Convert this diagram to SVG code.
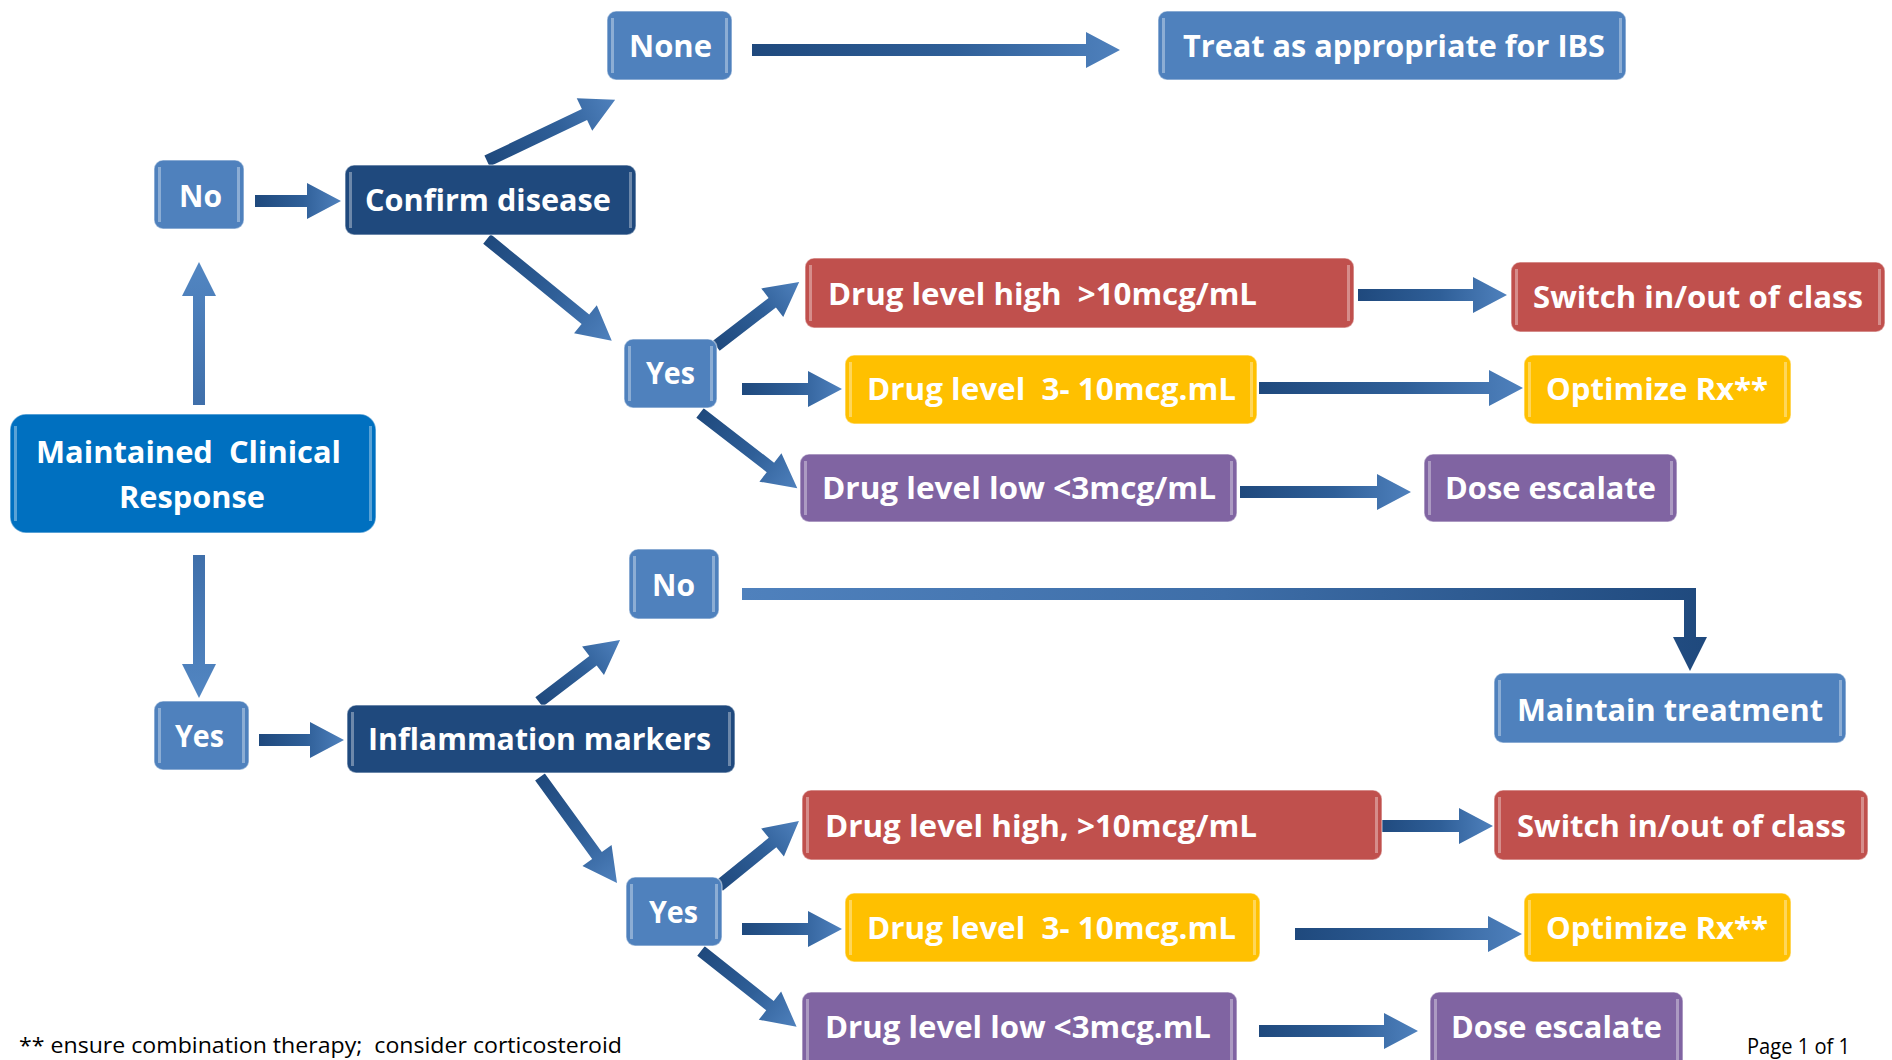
<svg xmlns="http://www.w3.org/2000/svg" width="1892" height="1060" viewBox="0 0 1892 1060">
<defs>
<style>
.box{stroke:#ffffff;stroke-opacity:.45;stroke-width:1.5}
.lb{fill:#4F81BD}.dk{fill:#1F497D}.mn{fill:#0070C0}.rd{fill:#C0504D}.yl{fill:#FFC000}.pu{fill:#8064A2}
.hl{fill:#ffffff;opacity:.35}
.t{font-family:"Open Sans","Liberation Sans",sans-serif;font-weight:700;font-size:31px;fill:#ffffff;white-space:pre}
.fn{font-family:"Open Sans","Liberation Sans",sans-serif;font-size:21px;fill:#000000;white-space:pre}
.ar{fill:url(#ga)}
.av{fill:url(#gv)}
</style>
<linearGradient id="ga" x1="0" y1="0" x2="1" y2="0">
<stop offset="0" stop-color="#1F497D"/>
<stop offset="0.55" stop-color="#2F5F98"/>
<stop offset="1" stop-color="#4F81BD"/>
</linearGradient>
<linearGradient id="gv" x1="0" y1="0" x2="1" y2="0">
<stop offset="0" stop-color="#3F6FAA"/>
<stop offset="1" stop-color="#5286C2"/>
</linearGradient>
<linearGradient id="ge" gradientUnits="userSpaceOnUse" x1="742" y1="0" x2="1707" y2="0">
<stop offset="0" stop-color="#4F81BD"/>
<stop offset="0.5" stop-color="#3E6EA8"/>
<stop offset="1" stop-color="#1F497D"/>
</linearGradient>
</defs>
<rect width="1892" height="1060" fill="#ffffff"/>

<g id="connectors">
<path class="ar" transform="translate(752,50)" d="M0,-6H334V-18L368,0L334,18V6H0Z"/>
<path class="ar" transform="translate(255,201)" d="M0,-6H52V-18L86,0L52,18V6H0Z"/>
<path class="ar" transform="translate(487,161) rotate(-25.5)" d="M0,-6H108V-18L142,0L108,18V6H0Z"/>
<path class="ar" transform="translate(487,239) rotate(39.2)" d="M0,-6H127V-18L161,0L127,18V6H0Z"/>
<path class="av" transform="translate(199,405) rotate(-90)" d="M0,-6H109V-17L143,0L109,17V6H0Z"/>
<path class="av" transform="translate(199,555) rotate(90)" d="M0,-6H109V-17L143,0L109,17V6H0Z"/>
<path class="ar" transform="translate(259,740)" d="M0,-6H51V-18L85,0L51,18V6H0Z"/>
<path class="ar" transform="translate(539,702) rotate(-37.4)" d="M0,-6H68V-18L102,0L68,18V6H0Z"/>
<path class="ar" transform="translate(540,777) rotate(54)" d="M0,-6H97V-18L131,0L97,18V6H0Z"/>
<path fill="url(#ge)" d="M742,588H1696V637H1707L1690,671L1673,637H1684V600H742Z"/>
<path class="ar" transform="translate(716,346) rotate(-37.6)" d="M0,-6H71V-18L105,0L71,18V6H0Z"/>
<path class="ar" transform="translate(742,389)" d="M0,-6H66V-18L100,0L66,18V6H0Z"/>
<path class="ar" transform="translate(700,413) rotate(37.7)" d="M0,-6H89V-18L123,0L89,18V6H0Z"/>
<path class="ar" transform="translate(1358,295)" d="M0,-6H115V-18L149,0L115,18V6H0Z"/>
<path class="ar" transform="translate(1259,388)" d="M0,-6H230V-18L264,0L230,18V6H0Z"/>
<path class="ar" transform="translate(1240,492)" d="M0,-6H137V-18L171,0L137,18V6H0Z"/>
<path class="ar" transform="translate(719,886) rotate(-39.1)" d="M0,-6H69V-18L103,0L69,18V6H0Z"/>
<path class="ar" transform="translate(742,929)" d="M0,-6H66V-18L100,0L66,18V6H0Z"/>
<path class="ar" transform="translate(701,951) rotate(38.4)" d="M0,-6H88V-18L122,0L88,18V6H0Z"/>
<path class="ar" transform="translate(1377,826)" d="M0,-6H82V-18L116,0L82,18V6H0Z"/>
<path class="ar" transform="translate(1295,934)" d="M0,-6H193V-18L227,0L193,18V6H0Z"/>
<path class="ar" transform="translate(1259,1031)" d="M0,-6H125V-18L159,0L125,18V6H0Z"/>
</g>

<g id="n-none"><rect class="box lb" x="607" y="11" width="125" height="69" rx="9"/><rect class="hl" x="611" y="18" width="3" height="55"/><rect class="hl" x="725" y="18" width="3" height="55"/><text class="t" x="629" y="57" textLength="83" lengthAdjust="spacingAndGlyphs">None</text></g>
<g id="n-ibs"><rect class="box lb" x="1158" y="11" width="468" height="69" rx="9"/><rect class="hl" x="1162" y="18" width="3" height="55"/><rect class="hl" x="1619" y="18" width="3" height="55"/><text class="t" x="1183" y="57" textLength="422" lengthAdjust="spacingAndGlyphs">Treat as appropriate for IBS</text></g>
<g id="n-no1"><rect class="box lb" x="154" y="160" width="90" height="69" rx="9"/><rect class="hl" x="158" y="167" width="3" height="55"/><rect class="hl" x="237" y="167" width="3" height="55"/><text class="t" x="179" y="207" textLength="43" lengthAdjust="spacingAndGlyphs">No</text></g>
<g id="n-confirm"><rect class="box dk" x="345" y="165" width="291" height="70" rx="9"/><rect class="hl" x="349" y="172" width="3" height="56"/><rect class="hl" x="629" y="172" width="3" height="56"/><text class="t" x="365" y="211" textLength="246" lengthAdjust="spacingAndGlyphs">Confirm disease</text></g>
<g id="n-yes1"><rect class="box lb" x="624" y="339" width="93" height="69" rx="9"/><rect class="hl" x="628" y="346" width="3" height="55"/><rect class="hl" x="710" y="346" width="3" height="55"/><text class="t" x="646" y="384" textLength="49" lengthAdjust="spacingAndGlyphs">Yes</text></g>
<g id="n-high1"><rect class="box rd" x="805" y="258" width="549" height="70" rx="9"/><rect class="hl" x="809" y="265" width="3" height="56"/><rect class="hl" x="1347" y="265" width="3" height="56"/><text class="t" x="828" y="305" textLength="429" lengthAdjust="spacingAndGlyphs" xml:space="preserve">Drug level high  &gt;10mcg/mL</text></g>
<g id="n-switch1"><rect class="box rd" x="1511" y="262" width="374" height="70" rx="9"/><rect class="hl" x="1515" y="269" width="3" height="56"/><rect class="hl" x="1878" y="269" width="3" height="56"/><text class="t" x="1533" y="308" textLength="330" lengthAdjust="spacingAndGlyphs">Switch in/out of class</text></g>
<g id="n-mid1"><rect class="box yl" x="845" y="355" width="412" height="69" rx="9"/><rect class="hl" x="849" y="362" width="3" height="55"/><rect class="hl" x="1250" y="362" width="3" height="55"/><text class="t" x="867" y="400" textLength="369" lengthAdjust="spacingAndGlyphs" xml:space="preserve">Drug level  3- 10mcg.mL</text></g>
<g id="n-opt1"><rect class="box yl" x="1524" y="355" width="267" height="69" rx="9"/><rect class="hl" x="1528" y="362" width="3" height="55"/><rect class="hl" x="1784" y="362" width="3" height="55"/><text class="t" x="1546" y="400" textLength="222" lengthAdjust="spacingAndGlyphs">Optimize Rx**</text></g>
<g id="n-low1"><rect class="box pu" x="800" y="454" width="437" height="68" rx="9"/><rect class="hl" x="804" y="461" width="3" height="54"/><rect class="hl" x="1230" y="461" width="3" height="54"/><text class="t" x="822" y="499" textLength="394" lengthAdjust="spacingAndGlyphs">Drug level low &lt;3mcg/mL</text></g>
<g id="n-dose1"><rect class="box pu" x="1424" y="454" width="253" height="68" rx="9"/><rect class="hl" x="1428" y="461" width="3" height="54"/><rect class="hl" x="1670" y="461" width="3" height="54"/><text class="t" x="1445" y="499" textLength="211" lengthAdjust="spacingAndGlyphs">Dose escalate</text></g>
<g id="n-main"><rect class="box mn" x="10" y="414" width="366" height="119" rx="16"/><rect class="hl" x="14" y="426" width="3" height="95"/><rect class="hl" x="369" y="426" width="3" height="95"/><text class="t" x="36" y="463" textLength="305" lengthAdjust="spacingAndGlyphs" xml:space="preserve">Maintained  Clinical</text><text class="t" x="119" y="508" textLength="146" lengthAdjust="spacingAndGlyphs">Response</text></g>
<g id="n-no2"><rect class="box lb" x="629" y="549" width="90" height="70" rx="9"/><rect class="hl" x="633" y="556" width="3" height="56"/><rect class="hl" x="712" y="556" width="3" height="56"/><text class="t" x="652" y="596" textLength="43" lengthAdjust="spacingAndGlyphs">No</text></g>
<g id="n-maintain"><rect class="box lb" x="1494" y="673" width="352" height="70" rx="9"/><rect class="hl" x="1498" y="680" width="3" height="56"/><rect class="hl" x="1839" y="680" width="3" height="56"/><text class="t" x="1517" y="721" textLength="306" lengthAdjust="spacingAndGlyphs">Maintain treatment</text></g>
<g id="n-yes2"><rect class="box lb" x="154" y="701" width="95" height="69" rx="9"/><rect class="hl" x="158" y="708" width="3" height="55"/><rect class="hl" x="242" y="708" width="3" height="55"/><text class="t" x="175" y="747" textLength="49" lengthAdjust="spacingAndGlyphs">Yes</text></g>
<g id="n-inflam"><rect class="box dk" x="347" y="705" width="388" height="68" rx="9"/><rect class="hl" x="351" y="712" width="3" height="54"/><rect class="hl" x="728" y="712" width="3" height="54"/><text class="t" x="368" y="750" textLength="343" lengthAdjust="spacingAndGlyphs">Inflammation markers</text></g>
<g id="n-yes3"><rect class="box lb" x="626" y="877" width="96" height="69" rx="9"/><rect class="hl" x="630" y="884" width="3" height="55"/><rect class="hl" x="715" y="884" width="3" height="55"/><text class="t" x="649" y="923" textLength="49" lengthAdjust="spacingAndGlyphs">Yes</text></g>
<g id="n-high2"><rect class="box rd" x="802" y="790" width="580" height="70" rx="9"/><rect class="hl" x="806" y="797" width="3" height="56"/><rect class="hl" x="1375" y="797" width="3" height="56"/><text class="t" x="825" y="837" textLength="432" lengthAdjust="spacingAndGlyphs">Drug level high, &gt;10mcg/mL</text></g>
<g id="n-switch2"><rect class="box rd" x="1494" y="790" width="374" height="70" rx="9"/><rect class="hl" x="1498" y="797" width="3" height="56"/><rect class="hl" x="1861" y="797" width="3" height="56"/><text class="t" x="1517" y="837" textLength="329" lengthAdjust="spacingAndGlyphs">Switch in/out of class</text></g>
<g id="n-mid2"><rect class="box yl" x="845" y="893" width="415" height="69" rx="9"/><rect class="hl" x="849" y="900" width="3" height="55"/><rect class="hl" x="1253" y="900" width="3" height="55"/><text class="t" x="867" y="939" textLength="369" lengthAdjust="spacingAndGlyphs" xml:space="preserve">Drug level  3- 10mcg.mL</text></g>
<g id="n-opt2"><rect class="box yl" x="1524" y="893" width="267" height="69" rx="9"/><rect class="hl" x="1528" y="900" width="3" height="55"/><rect class="hl" x="1784" y="900" width="3" height="55"/><text class="t" x="1546" y="939" textLength="222" lengthAdjust="spacingAndGlyphs">Optimize Rx**</text></g>
<g id="n-low2"><rect class="box pu" x="802" y="992" width="435" height="80" rx="9"/><rect class="hl" x="806" y="999" width="3" height="70"/><rect class="hl" x="1230" y="999" width="3" height="70"/><text class="t" x="825" y="1038" textLength="386" lengthAdjust="spacingAndGlyphs">Drug level low &lt;3mcg.mL</text></g>
<g id="n-dose2"><rect class="box pu" x="1430" y="992" width="253" height="80" rx="9"/><rect class="hl" x="1434" y="999" width="3" height="70"/><rect class="hl" x="1676" y="999" width="3" height="70"/><text class="t" x="1451" y="1038" textLength="211" lengthAdjust="spacingAndGlyphs">Dose escalate</text></g>

<g id="notes">
<text class="fn" x="19" y="1053" textLength="603" lengthAdjust="spacingAndGlyphs" xml:space="preserve">** ensure combination therapy;  consider corticosteroid</text>
<text class="fn" x="1747" y="1054" font-size="20" textLength="103" lengthAdjust="spacingAndGlyphs">Page 1 of 1</text>
</g>
</svg>
